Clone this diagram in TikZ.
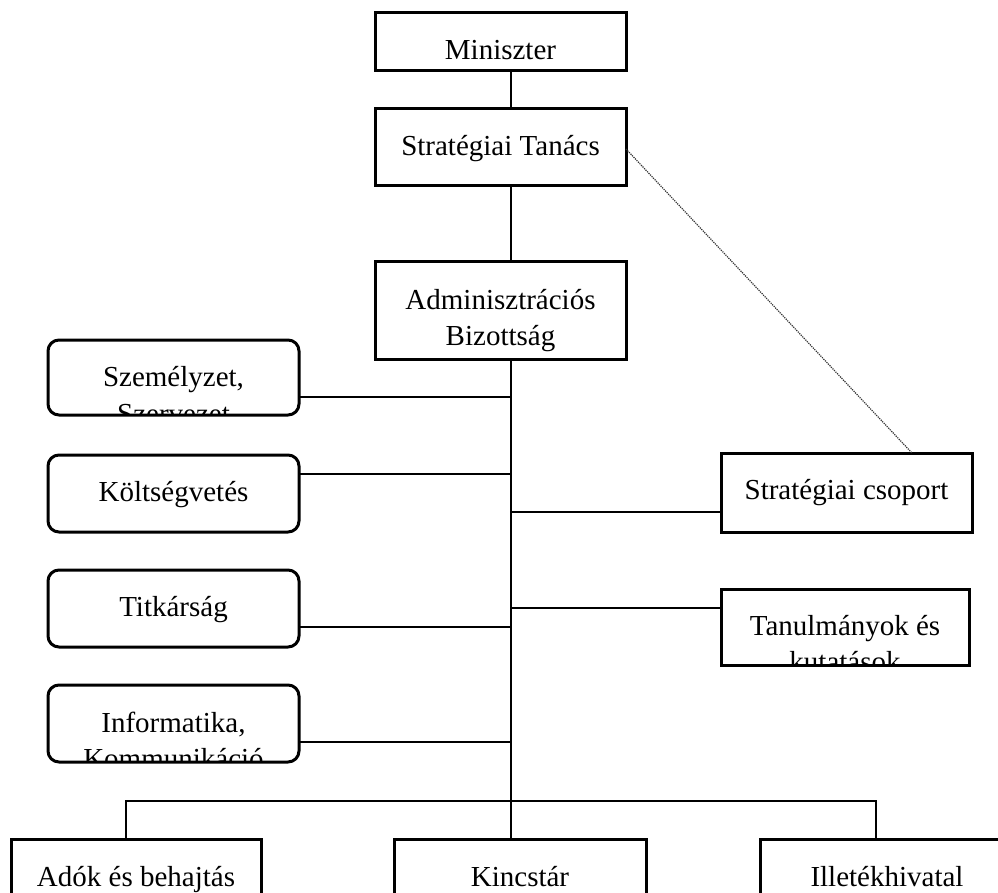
\documentclass[tikz,border=0pt]{standalone}
\usepackage{fontspec}
\setmainfont{Liberation Serif}
\begin{document}
\begin{tikzpicture}[x=1pt,y=-1pt,
  unit/.style={draw=black, line width=3pt, inner sep=0pt, outer sep=0pt,
    minimum width=251pt, anchor=north west},
  roundunit/.style={unit, rounded corners=11pt},
  label/.style={anchor=base, inner sep=0pt, font=\fontsize{29}{35}\selectfont},
  link/.style={line width=2.6pt, line cap=rect},
  advisory/.style={line width=1.2pt, densely dotted, black!80}]
  \clip (0,0) rectangle (998,893);

  % top of the hierarchy
  \node[unit, minimum height=58pt] (min) at (375,13) {};
  \node[unit, minimum height=77pt] (tan) at (375,109) {};
  \node[unit, minimum height=97pt] (adm) at (375,262) {};

  % staff units on the left
  \node[roundunit, minimum height=75pt] (szem) at (48,340) {};
  \node[roundunit, minimum height=77pt] (kolt) at (48,455) {};
  \node[roundunit, minimum height=77pt] (titk) at (48,570) {};
  \node[roundunit, minimum height=77pt] (info) at (48,685) {};

  % units on the right
  \node[unit, minimum height=79pt] (csop) at (721,453) {};
  \node[unit, minimum height=76pt, minimum width=248pt] (tanu) at (721,589) {};

  % line departments at the bottom
  \node[unit, minimum height=80pt, minimum width=250pt] (ado) at (11,839) {};
  \node[unit, minimum height=80pt, minimum width=252pt] (kinc) at (394,839) {};
  \node[unit, minimum height=80pt, minimum width=252pt] (ill) at (760,839) {};

  % labels
  \node[label] (minL) at ([yshift=-47pt]min.north) {Miniszter};
  \node[label] (tanL) at ([yshift=-47pt]tan.north) {Stratégiai Tanács};
  \node[label] (admL1) at ([yshift=-47pt]adm.north) {Adminisztrációs};
  \node[label] (admL2) at ([yshift=-83pt]adm.north) {Bizottság};

  \begin{scope}
    \clip[rounded corners=11pt] (szem.north west) rectangle (szem.south east);
    \node[label] (szemL1) at ([yshift=-46pt]szem.north) {Személyzet,};
    \node[label] (szemL2) at ([yshift=-83pt]szem.north) {Szervezet};
  \end{scope}
  \node[label] (koltL) at ([yshift=-46pt]kolt.north) {Költségvetés};
  \node[label] (titkL) at ([yshift=-46pt]titk.north) {Titkárság};
  \begin{scope}
    \clip[rounded corners=11pt] (info.north west) rectangle (info.south east);
    \node[label] (infoL1) at ([yshift=-47pt]info.north) {Informatika,};
    \node[label] (infoL2) at ([yshift=-83pt]info.north) {Kommunikáció};
  \end{scope}

  \node[label] (csopL) at ([yshift=-46pt]csop.north) {Stratégiai csoport};
  \begin{scope}
    \clip (tanu.north west) rectangle (tanu.south east);
    \node[label] (tanuL1) at ([yshift=-46pt]tanu.north) {Tanulmányok és};
    \node[label] (tanuL2) at ([yshift=-82pt]tanu.north) {kutatások};
  \end{scope}

  \node[label] (adoL) at ([yshift=-47pt]ado.north) {Adók és behajtás};
  \node[label] (kincL) at ([yshift=-47pt]kinc.north) {Kincstár};
  \node[label] (illL) at ([xshift=1pt,yshift=-47pt]ill.north) {Illetékhivatal};

  % junction points on the main line
  \coordinate (jSzem) at (511,397);
  \coordinate (jKolt) at (511,474);
  \coordinate (jCsop) at (511,512);
  \coordinate (jTanu) at (511,608);
  \coordinate (jTitk) at (511,627);
  \coordinate (jInfo) at (511,742);
  \coordinate (busL) at (126,801);
  \coordinate (busR) at (876,801);
  \coordinate (tanE) at (626,149);
  \coordinate (csopN) at (912,453);

  % main line
  \draw[link] (min.south -| jSzem) -- (tan.north -| jSzem);
  \draw[link] (tan.south -| jSzem) -- (adm.north -| jSzem);
  \draw[link] (adm.south -| jSzem) -- (kinc.north -| jSzem);

  % branches
  \draw[link] (szem.east |- jSzem) -- (jSzem);
  \draw[link] (kolt.east |- jKolt) -- (jKolt);
  \draw[link] (titk.east |- jTitk) -- (jTitk);
  \draw[link] (info.east |- jInfo) -- (jInfo);
  \draw[link] (jCsop) -- (csop.west |- jCsop);
  \draw[link] (jTanu) -- (tanu.west |- jTanu);

  % bottom bus
  \draw[link] (ado.north -| busL) -- (busL) -- (busR) -- (ill.north -| busR);

  % advisory link
  \draw[advisory] (tanE) -- (csopN);
\end{tikzpicture}
\end{document}
